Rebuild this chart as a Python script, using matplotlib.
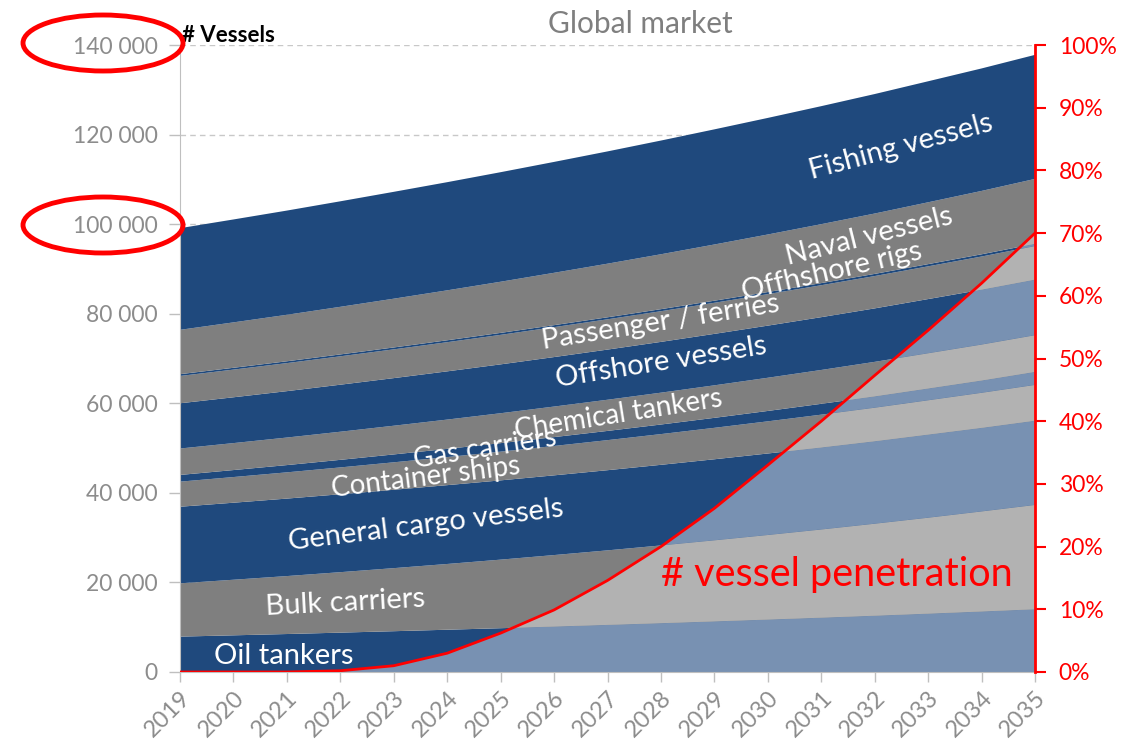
import numpy as np
import matplotlib
matplotlib.use("Agg")
import matplotlib.pyplot as plt
from matplotlib.patches import Polygon, Ellipse
from matplotlib.ticker import FuncFormatter

plt.rcParams['font.family'] = ['Lato', 'DejaVu Sans']

years = list(range(2019, 2036))

# vessel counts per segment (stack order, bottom -> top)
oil_tankers = [7900, 8190, 8480, 8790, 9110, 9440, 9780, 10140, 10510, 10890, 11290, 11700, 12120, 12560, 13020, 13500, 14000]
bulk_carriers = [11900, 12410, 12940, 13500, 14080, 14680, 15310, 15970, 16650, 17370, 18110, 18890, 19700, 20550, 21430, 22350, 23300]
general_cargo = [17100, 17200, 17300, 17400, 17500, 17600, 17700, 17800, 17900, 18000, 18100, 18200, 18300, 18400, 18550, 18650, 18800]
container_ships = [5600, 5730, 5860, 5990, 6130, 6270, 6410, 6560, 6710, 6860, 7020, 7180, 7340, 7500, 7670, 7840, 8000]
gas_carriers = [1500, 1560, 1620, 1690, 1760, 1830, 1900, 1980, 2060, 2140, 2230, 2320, 2420, 2520, 2620, 2730, 2900]
chemical_tankers = [5900, 6020, 6150, 6280, 6410, 6540, 6680, 6820, 6960, 7110, 7260, 7410, 7560, 7720, 7880, 8040, 8200]
offshore_vessels = [10100, 10230, 10360, 10500, 10630, 10770, 10910, 11050, 11200, 11340, 11490, 11640, 11790, 11940, 12100, 12250, 12400]
passenger_ferries = [6100, 6180, 6260, 6340, 6420, 6510, 6590, 6680, 6760, 6850, 6940, 7030, 7130, 7220, 7310, 7410, 7500]
offshore_rigs = [400, 405, 410, 420, 425, 430, 440, 445, 450, 455, 465, 470, 475, 480, 490, 495, 500]
naval_vessels = [9900, 10140, 10380, 10630, 10890, 11150, 11420, 11690, 11970, 12260, 12550, 12850, 13160, 13480, 13810, 14150, 14500]
fishing_vessels = [22700, 22980, 23270, 23560, 23860, 24150, 24460, 24760, 25070, 25390, 25710, 26030, 26350, 26680, 27020, 27350, 27700]

# share of vessels penetrated (%)
penetration = [0, 0, 0, 0.2, 1.0, 3.0, 6.2, 9.9, 14.6, 20.0, 26.1, 33.0, 40.0, 47.3, 54.5, 62.0, 70.0]

series = [oil_tankers, bulk_carriers, general_cargo, container_ships, gas_carriers,
          chemical_tankers, offshore_vessels, passenger_ferries, offshore_rigs,
          naval_vessels, fishing_vessels]

BLUE, GREY = '#1f497d', '#7f7f7f'
LBLUE, LGREY = '#7891b2', '#b2b2b2'
dark = [BLUE if i % 2 == 0 else GREY for i in range(len(series))]
light = [LBLUE if i % 2 == 0 else LGREY for i in range(len(series))]

YMAX = 140000

fig = plt.figure(figsize=(11.39, 7.45), dpi=100)
ax = fig.add_axes([180 / 1139, 73 / 745, 855 / 1139, 627 / 745])

# gridlines behind everything
for v in range(20000, YMAX + 1, 20000):
    ax.axhline(v, color='#c8c8c8', lw=1, ls=(0, (4, 3)), zorder=0)

ax.stackplot(years, *series, colors=dark, zorder=1)

# lighter copy of the stack, only visible below the penetration curve
pen_abs = [p / 100 * YMAX for p in penetration]
clip = Polygon(list(zip(years, pen_abs)) + [(years[-1], 0), (years[0], 0)],
               closed=True, facecolor='none', edgecolor='none', transform=ax.transData)
ax.add_patch(clip)
for coll in ax.stackplot(years, *series, colors=light, zorder=2):
    coll.set_clip_path(clip)

ax.set_xlim(2019, 2035)
ax.set_ylim(0, YMAX)
ax.set_xticks(years)
ax.set_xticklabels([str(y) for y in years], rotation=45, ha='right',
                   rotation_mode='anchor', fontsize=17, color='#8c8c8c')
ax.set_yticks(range(0, YMAX + 1, 20000))
ax.yaxis.set_major_formatter(FuncFormatter(lambda v, p: f"{int(v):,}".replace(',', ' ')))
ax.tick_params(axis='y', labelsize=16.5, labelcolor='#8c8c8c', color='#bfbfbf',
               length=8, width=1, pad=8)
ax.tick_params(axis='x', color='#bfbfbf', length=7, width=1, pad=4)
for s in ['top', 'right']:
    ax.spines[s].set_visible(False)
for s in ['left', 'bottom']:
    ax.spines[s].set_color('#bfbfbf')
    ax.spines[s].set_zorder(5)

# penetration on the right axis
ax2 = ax.twinx()
ax2.plot(years, [p / 100 for p in penetration], color='red', lw=2, zorder=6)
ax2.set_ylim(0, 1)
ax2.set_yticks(np.arange(0, 1.01, 0.1))
ax2.set_yticklabels([f"{int(round(v * 100))}%" for v in np.arange(0, 1.01, 0.1)])
ax2.tick_params(axis='y', labelsize=16.5, labelcolor='red', color='red',
                length=8, width=1.5, pad=9)
for s in ['top', 'left', 'bottom']:
    ax2.spines[s].set_visible(False)
ax2.spines['right'].set_color('red')
ax2.spines['right'].set_linewidth(2)

# segment labels: text, year, value, rotation, size
labels = [
    ("Fishing vessels", 2032.5, 117200, 15, 21),
    ("Naval vessels", 2031.9, 97200, 14, 21),
    ("Offhshore rigs", 2031.2, 89300, 13, 21),
    ("Passenger / ferries", 2028.0, 78100, 9, 21),
    ("Offshore vessels", 2028.0, 69200, 9, 21),
    ("Chemical tankers", 2027.2, 57400, 9, 20),
    ("Gas carriers", 2024.7, 49800, 9, 20),
    ("Container ships", 2023.6, 43500, 7, 20),
    ("General cargo vessels", 2023.6, 32700, 7, 21),
    ("Bulk carriers", 2022.1, 15400, 3, 21),
    ("Oil tankers", 2020.95, 3500, 0, 21),
]
for txt, x, y, rot, fs in labels:
    ax.text(x, y, txt, color='white', fontsize=fs, rotation=rot,
            ha='center', va='center', rotation_mode='anchor', zorder=8)

ax.text(2031.3, 21800, "# vessel penetration", color='red', fontsize=28.5,
        ha='center', va='center', zorder=8)

fig.text(640 / 1139, 1 - 24 / 745, "Global market", color='#7f7f7f',
         fontsize=21.5, ha='center', va='center')
fig.text(182 / 1139, 1 - 35 / 745, "# Vessels", color='black', fontsize=16,
         fontweight='bold', ha='left', va='center')

# red highlight rings around two y labels
for cy in (43, 225):
    fig.add_artist(Ellipse((103 / 1139, 1 - cy / 745), 160 / 1139, 56 / 745,
                           transform=fig.transFigure, fill=False,
                           edgecolor='red', lw=3.5, zorder=10))

fig.savefig("out.png", dpi=100)
